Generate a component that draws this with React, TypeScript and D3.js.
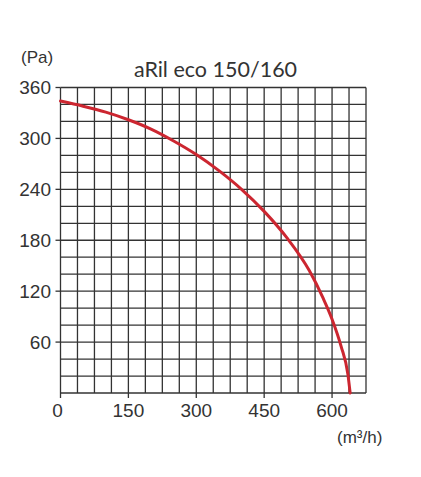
import React from "react";
import * as d3 from "d3";

const flow = [0, 50, 100, 150, 200, 250, 300, 350, 400, 450, 500, 550, 580, 600, 620, 635, 640];
const pressure = [344, 338, 331, 322, 311, 297, 281, 262, 240, 214, 183, 144, 112, 87, 55, 22, 0];
const xTicks = [0, 150, 300, 450, 600];
const yTicks = [60, 120, 180, 240, 300, 360];
const xGridStep = 37.5;
const yGridStep = 20;
const xMax = 675;
const yMax = 360;
const title = "aRil eco 150/160";

export default function App() {
  const W = 421, H = 477;
  const left = 60.5, right = 366, top = 87.5, bottom = 393;
  const x = d3.scaleLinear().domain([0, xMax]).range([left, right]);
  const y = d3.scaleLinear().domain([0, yMax]).range([bottom, top]);
  const xg = d3.range(0, xMax + 0.01, xGridStep);
  const yg = d3.range(0, yMax + 0.01, yGridStep);
  const pts = flow.map((f, i) => [f, pressure[i]] as [number, number]);
  const line = d3.line<[number, number]>().x(d => x(d[0])).y(d => y(d[1])).curve(d3.curveMonotoneX);
  const grid = "#333";
  const txt = "#333";
  return (
    <svg width={W} height={H} style={{ position: "absolute", left: 0, top: 0, background: "#fff" }}
      fontFamily="'Liberation Sans', Arial, sans-serif">
      <rect width={W} height={H} fill="#fff" />
      {xg.map(v => (
        <line key={"vx" + v} x1={x(v)} x2={x(v)} y1={top} y2={bottom} stroke={grid} strokeWidth={1.3} />
      ))}
      {yg.map(v => (
        <line key={"hy" + v} x1={left} x2={right} y1={y(v)} y2={y(v)} stroke={grid} strokeWidth={1.3} />
      ))}
      {xTicks.map(v => (
        <g key={"xt" + v}>
          <line x1={x(v)} x2={x(v)} y1={bottom} y2={bottom + 5} stroke={grid} strokeWidth={1.3} />
          <text x={v === 0 ? x(v) - 3 : x(v)} y={417} textAnchor="middle" fontSize={19} fill={txt}>{v}</text>
        </g>
      ))}
      {yTicks.map(v => (
        <g key={"yt" + v}>
          <line x1={left - 5} x2={left} y1={y(v)} y2={y(v)} stroke={grid} strokeWidth={1.3} />
          <text x={51} y={y(v)} dy="0.35em" textAnchor="end" fontSize={19} fill={txt}>{v}</text>
        </g>
      ))}
      <path d={line(pts) || ""} fill="none" stroke="#cc2630" strokeWidth={3} strokeLinecap="round" />
      <text x={21} y={63} fontSize={17} fill={txt}>(Pa)</text>
      <text x={337} y={443} fontSize={17} fill={txt}>(m³/h)</text>
      <text x={215.5} y={77} textAnchor="middle" fontSize={21.5} fill={txt} fontFamily="Lato, 'Open Sans', sans-serif">{title}</text>
    </svg>
  );
}
